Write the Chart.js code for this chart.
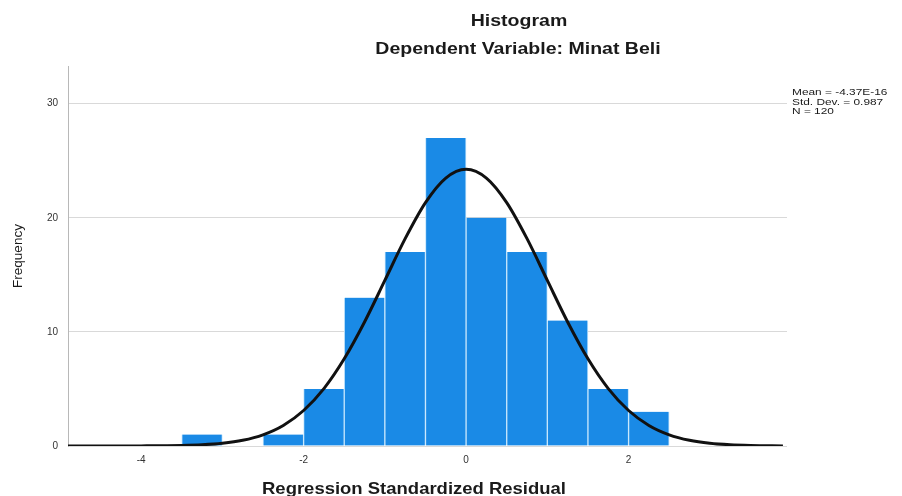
<!DOCTYPE html>
<html>
<head>
<meta charset="utf-8">
<script src="https://cdn.jsdelivr.net/npm/chart.js@4.4.1/dist/chart.umd.min.js"></script>
<style>
  html, body { margin: 0; padding: 0; background: #fff; }
  canvas { display: block; }
</style>
</head>
<body>
<canvas id="hist" width="902" height="496"></canvas>
<script>
// histogram bins (centre of each 0.5 wide bin) and their counts
const binCenters = [-3.25, -2.25, -1.75, -1.25, -0.75, -0.25, 0.25, 0.75, 1.25, 1.75, 2.25];
const binCounts  = [1, 1, 5, 13, 17, 27, 20, 17, 11, 5, 3];

// normal curve
const curveX = [-4.9, -4.5, -4, -3.5, -3.25, -3, -2.75, -2.5, -2.25, -2, -1.75, -1.5, -1.25, -1, -0.75, -0.5, -0.25,
                0, 0.25, 0.5, 0.75, 1, 1.25, 1.5, 1.75, 2, 2.25, 2.5, 2.75, 3, 3.25, 3.5, 3.9];
const curveY = [0, 0, 0.01, 0.05, 0.11, 0.24, 0.5, 0.98, 1.8, 3.11, 5.03, 7.64, 10.87, 14.51, 18.17, 21.33, 23.48,
                24.25, 23.48, 21.33, 18.17, 14.51, 10.87, 7.64, 5.03, 3.11, 1.8, 0.98, 0.5, 0.24, 0.11, 0.05, 0.01];

const xTicks = [-4, -2, 0, 2];
const yTicks = [0, 10, 20, 30];

const statLines = ['Mean = -4.37E-16', 'Std. Dev. = 0.987', 'N = 120'];

const FONT = '"Liberation Sans", Arial, sans-serif';

// titles and labels are drawn by hand so they can sit where the original has them
const textPlugin = {
  id: 'texts',
  afterDraw(chart) {
    const ctx = chart.ctx;
    const put = (txt, x, y, font, sx, align) => {
      ctx.save();
      ctx.font = font;
      ctx.fillStyle = '#1a1a1a';
      ctx.textAlign = align || 'center';
      ctx.textBaseline = 'alphabetic';
      ctx.translate(x, y);
      ctx.scale(sx, 1);
      ctx.fillText(txt, 0, 0);
      ctx.restore();
    };
    put('Histogram', 519, 26, 'bold 16px ' + FONT, 1.22);
    put('Dependent Variable: Minat Beli', 518, 54, 'bold 16px ' + FONT, 1.22);
    put('Regression Standardized Residual', 414, 494, 'bold 16.5px ' + FONT, 1.12);

    statLines.forEach((s, i) => {
      put(s, 792, 95 + i * 9.5, '9.5px ' + FONT, 1.25, 'left');
    });

    ctx.save();
    ctx.font = '13.5px ' + FONT;
    ctx.fillStyle = '#1a1a1a';
    ctx.textAlign = 'center';
    ctx.translate(21.5, 256);
    ctx.rotate(-Math.PI / 2);
    ctx.fillText('Frequency', 0, 0);
    ctx.restore();
  }
};

new Chart(document.getElementById('hist').getContext('2d'), {
  data: {
    datasets: [
      {
        type: 'line',
        data: curveX.map((x, i) => ({ x: x, y: curveY[i] })),
        borderColor: '#111',
        borderWidth: 3,
        pointRadius: 0,
        cubicInterpolationMode: 'monotone',
        order: 0,
      },
      {
        type: 'bar',
        data: binCenters.map((x, i) => ({ x: x, y: binCounts[i] })),
        backgroundColor: '#1a8ae6',
        borderColor: '#c6e6fc',
        borderWidth: { left: 1, right: 1, top: 0, bottom: 0 },
        borderSkipped: false,
        barPercentage: 1,
        categoryPercentage: 1,
        order: 1,
      },
    ],
  },
  options: {
    responsive: false,
    animation: false,
    layout: { padding: { left: 0, right: 115, top: 66, bottom: 0 } },
    plugins: {
      legend: { display: false },
      tooltip: { enabled: false },
      title: { display: false },
    },
    scales: {
      x: {
        type: 'linear',
        offset: false,
        min: -4.9,
        max: 3.95,
        afterBuildTicks: s => { s.ticks = xTicks.map(v => ({ value: v })); },
        afterFit: s => { s.height = 50; },
        grid: { display: false, drawTicks: false, offset: false },
        border: { display: false },
        ticks: { padding: 8, color: '#333', font: { family: FONT, size: 10 } },
      },
      y: {
        min: 0,
        max: 33.3,
        afterBuildTicks: s => { s.ticks = yTicks.map(v => ({ value: v })); },
        afterFit: s => { s.width = 68; },
        grid: { drawTicks: false, color: '#d9d9d9', lineWidth: 1 },
        border: { display: true, color: '#b8b8b8' },
        ticks: { padding: 10, color: '#333', font: { family: FONT, size: 10 } },
      },
    },
  },
  plugins: [textPlugin],
});
</script>
</body>
</html>
